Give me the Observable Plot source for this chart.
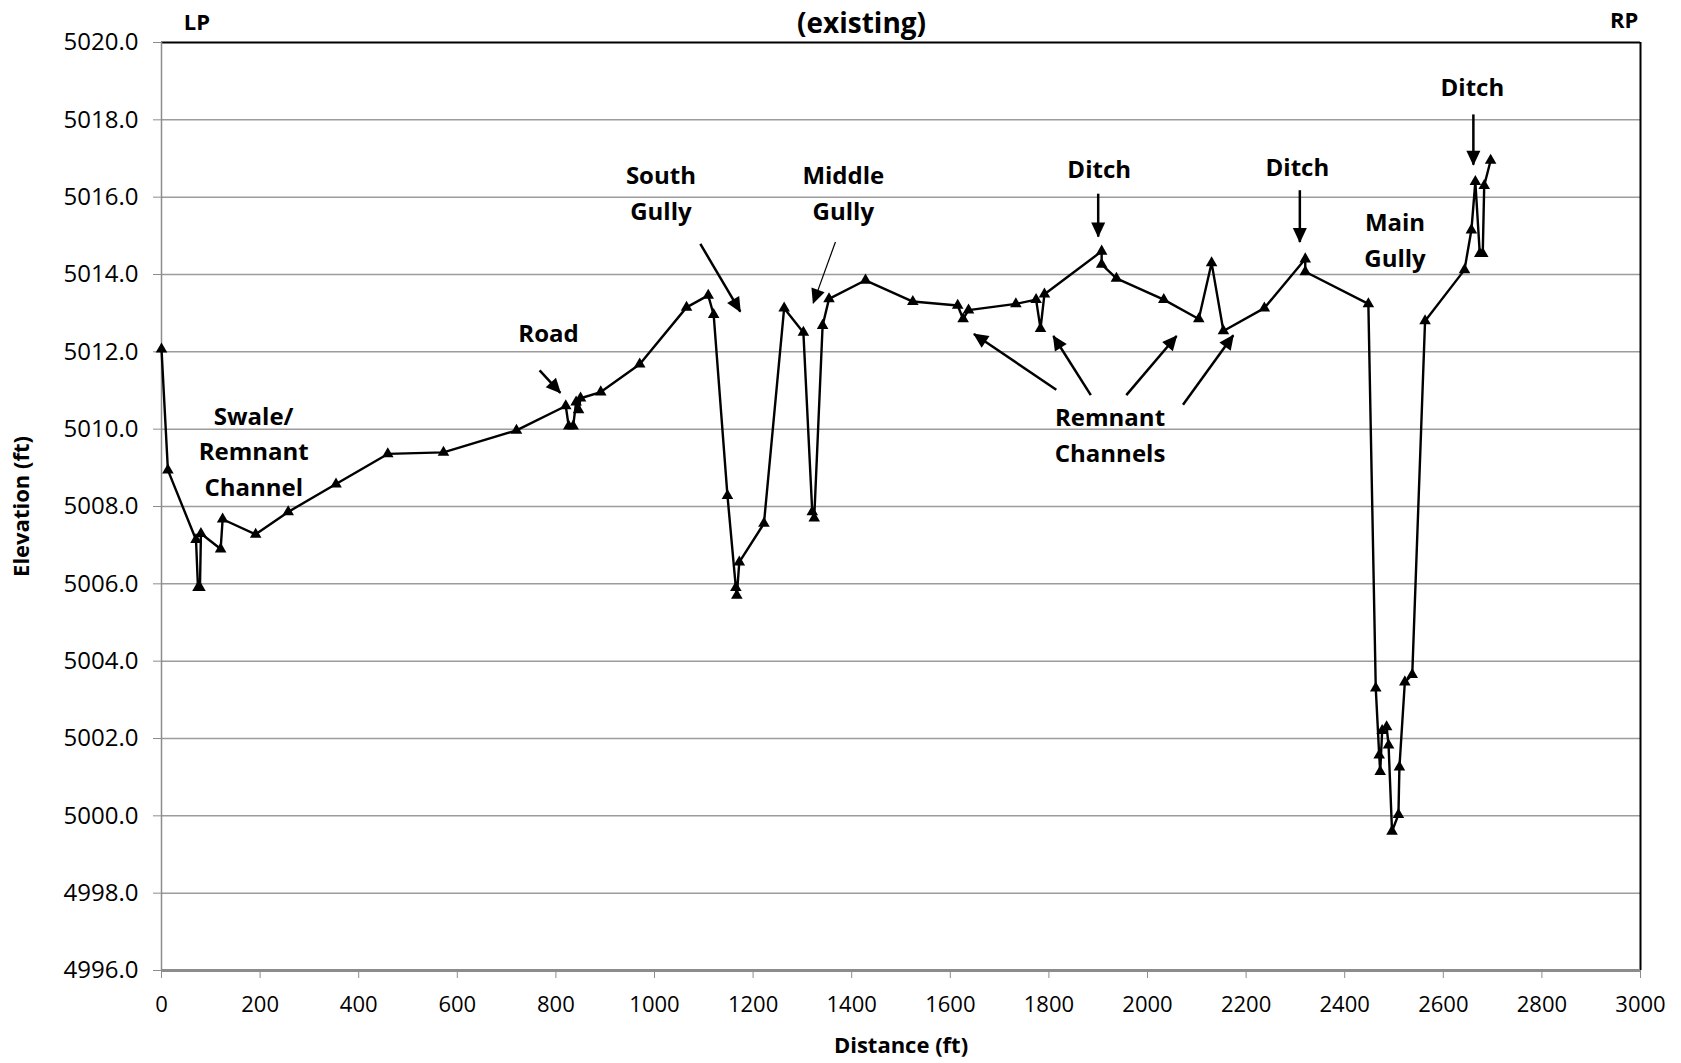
<!DOCTYPE html>
<html>
<head>
<meta charset="utf-8">
<script src="https://cdn.jsdelivr.net/npm/d3@7"></script>
<script src="https://cdn.jsdelivr.net/npm/@observablehq/plot@0.6"></script>
<style>
  html, body { margin: 0; padding: 0; background: #fff; }
  #chart svg { display: block; }
</style>
</head>
<body>
<div id="chart"></div>
<script>
// Survey profile: distance (ft) and elevation (ft)
const distance = [0, 13, 70, 74, 78, 80, 120, 124, 191, 257, 354, 459, 572, 720, 820, 826, 835, 841, 846, 850, 891, 970, 1065, 1109, 1120, 1148, 1165, 1167, 1172, 1222, 1263, 1302, 1320, 1324, 1341, 1354, 1428, 1524, 1615, 1626, 1637, 1733, 1774, 1783, 1791, 1907, 1907, 1937, 2033, 2104, 2130, 2154, 2237, 2320, 2320, 2448, 2463, 2470, 2472, 2476, 2485, 2489, 2496, 2509, 2511, 2522, 2537, 2563, 2643, 2657, 2665, 2674, 2680, 2683, 2696];
const elevation = [5012.07, 5008.94, 5007.14, 5005.9, 5005.9, 5007.3, 5006.9, 5007.67, 5007.28, 5007.86, 5008.58, 5009.36, 5009.4, 5009.97, 5010.6, 5010.08, 5010.08, 5010.7, 5010.5, 5010.8, 5010.96, 5011.68, 5013.15, 5013.46, 5012.96, 5008.28, 5005.9, 5005.7, 5006.56, 5007.56, 5013.13, 5012.5, 5007.86, 5007.7, 5012.68, 5013.37, 5013.85, 5013.3, 5013.2, 5012.85, 5013.08, 5013.24, 5013.35, 5012.6, 5013.49, 5014.6, 5014.26, 5013.9, 5013.35, 5012.85, 5014.3, 5012.54, 5013.13, 5014.4, 5014.07, 5013.24, 5003.3, 5001.57, 5001.14, 5002.2, 5002.3, 5001.83, 4999.6, 5000.03, 5001.26, 5003.46, 5003.65, 5012.8, 5014.12, 5015.15, 5016.4, 5014.54, 5014.54, 5016.3, 5016.95];

// Axis ticks
const xTicks = d3.range(0, 3001, 200);
const yTicks = d3.range(4996, 5020.1, 2);
const yGrid = d3.range(4998, 5018.1, 2);

// Annotation labels (positions in data units)
const labelText = ["Swale/\nRemnant\nChannel", "Road", "South\nGully", "Middle\nGully", "Ditch", "Ditch", "Ditch", "Main\nGully", "Remnant\nChannels", "LP", "RP", "(existing)"];
const labelX = [187, 785, 1013, 1383, 1902, 2304, 2659, 2502, 1924, 72, 2967, 1420];
const labelY = [5009.49, 5012.54, 5016.17, 5016.17, 5016.78, 5016.84, 5018.92, 5014.95, 5009.91, 5020.6, 5020.64, 5020.6];
const labelSize = [24, 24, 24, 24, 24, 24, 24, 24, 24, 22, 22, 28];

// Annotation arrows (data units)
const arrowX1 = [767, 1093, 1367, 1900, 2309, 2661, 1815, 1885, 1957, 2072];
const arrowY1 = [5011.52, 5014.79, 5014.84, 5016.09, 5016.18, 5018.14, 5011.02, 5010.88, 5010.88, 5010.63];
const arrowX2 = [809, 1174, 1322, 1900, 2309, 2661, 1648, 1809, 2059, 2174];
const arrowY2 = [5010.94, 5013.04, 5013.26, 5014.98, 5014.84, 5016.84, 5012.46, 5012.41, 5012.41, 5012.43];
const arrowWeight = [2.5, 2.5, 1.2, 2.5, 2.5, 2.5, 2.5, 2.5, 2.5, 2.5];

const profile = distance.map((d, i) => ({d, e: elevation[i]}));
const labels = labelText.map((t, i) => ({t, x: labelX[i], y: labelY[i], s: labelSize[i]}));
const arrows = arrowX1.map((x1, i) => ({x1, y1: arrowY1[i], x2: arrowX2[i], y2: arrowY2[i], w: arrowWeight[i]}));

const FONT = "'Open Sans', 'DejaVu Sans', sans-serif";

const chart = Plot.plot({
  width: 1681,
  height: 1063,
  marginLeft: 161,
  marginRight: 41,
  marginTop: 42,
  marginBottom: 93,
  style: {fontFamily: FONT, background: "#fff", color: "#000"},
  x: {domain: [0, 3000]},
  y: {domain: [4996, 5020]},
  marks: [
    Plot.gridY(yGrid, {stroke: "#9c9c9c", strokeOpacity: 1, strokeWidth: 1.5}),
    Plot.axisY({ticks: yTicks, tickFormat: d => d.toFixed(1), tickSize: 8, tickPadding: 15, fontSize: 24, stroke: "#8c8c8c", fill: "#000", label: null}),
    Plot.axisX({ticks: xTicks, tickFormat: d => String(d), tickSize: 8, tickPadding: 18, fontSize: 22, stroke: "#8c8c8c", fill: "#000", label: null}),
    Plot.ruleY([5020], {stroke: "#000", strokeWidth: 2}),
    Plot.ruleX([3000], {stroke: "#000", strokeWidth: 2}),
    Plot.ruleX([0], {stroke: "#8c8c8c", strokeWidth: 1.5}),
    Plot.ruleY([4996], {stroke: "#8c8c8c", strokeWidth: 3}),
    Plot.line(profile, {x: "d", y: "e", stroke: "#000", strokeWidth: 2.4}),
    Plot.dot(profile, {x: "d", y: "e", symbol: "triangle", r: 4.3, fill: "#000", stroke: "none"}),
    Plot.link(arrows, {x1: "x1", y1: "y1", x2: "x2", y2: "y2", stroke: "#000", strokeWidth: "w", markerEnd: "arrow"}),
    Plot.text(labels, {x: "x", y: "y", text: "t", fontSize: "s", fontWeight: "bold", fill: "#000", lineHeight: 1.48, lineAnchor: "middle"}),
    Plot.text(["Distance (ft)"], {frameAnchor: "bottom", dy: 82, fontSize: 22, fontWeight: "bold", fill: "#000", textAnchor: "middle"}),
    Plot.text(["Elevation (ft)"], {frameAnchor: "left", dx: -140, rotate: -90, fontSize: 22, fontWeight: "bold", fill: "#000", textAnchor: "middle"})
  ]
});

// Excel-style filled arrowheads
chart.querySelectorAll("marker").forEach(m => {
  m.setAttribute("viewBox", "-15 -8 16 16");
  m.setAttribute("markerUnits", "userSpaceOnUse");
  m.setAttribute("markerWidth", "16");
  m.setAttribute("markerHeight", "16");
  m.setAttribute("fill", "#000");
  m.setAttribute("stroke", "none");
  m.innerHTML = "";
  const p = document.createElementNS("http://www.w3.org/2000/svg", "path");
  p.setAttribute("d", "M-14,-7L1,0L-14,7Z");
  m.appendChild(p);
});

document.getElementById("chart").appendChild(chart);
</script>
</body>
</html>
